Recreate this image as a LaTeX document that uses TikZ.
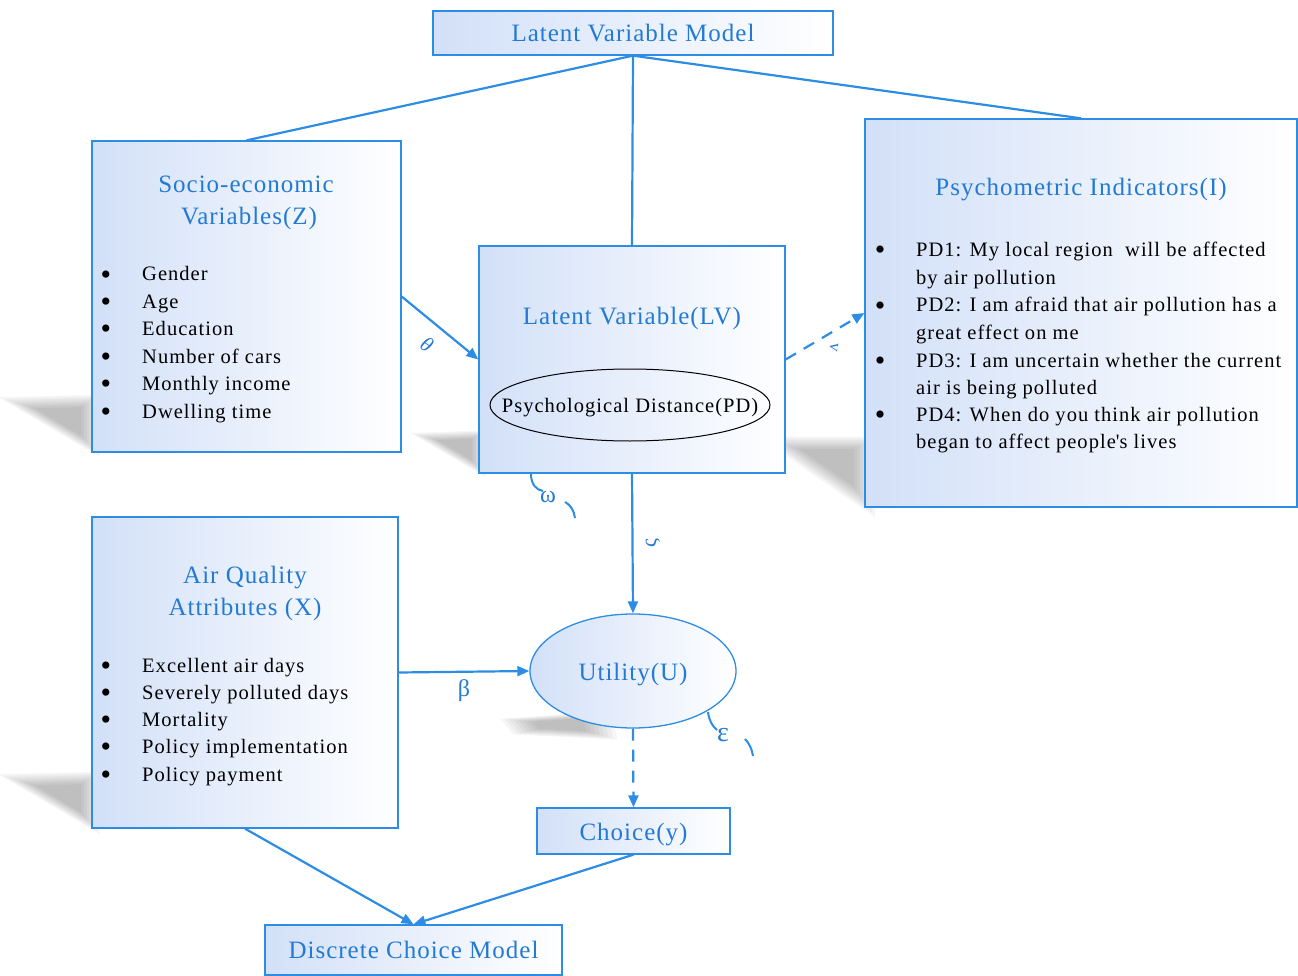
\documentclass[tikz,border=0pt]{standalone}
\usepackage{fontspec}
\setmainfont{Liberation Serif}[LetterSpace=5]
\newfontfamily\ttlfont{Liberation Serif}[LetterSpace=4]
\newfontfamily\grkfont{Liberation Serif}
\usetikzlibrary{arrows.meta,shapes.geometric}
\definecolor{lblue}{RGB}{45,140,228}
\definecolor{tblue}{RGB}{35,122,212}
\definecolor{fillb}{RGB}{210,224,248}
\tikzset{
  box/.style={draw=lblue, line width=1.3pt, left color=fillb, right color=white, inner sep=0pt},
  conn/.style={draw=lblue, line width=2.2pt},
  arr/.style={conn, -{Triangle[length=12pt,width=10pt]}},
  ttl/.style={text=tblue, font=\ttlfont\fontsize{25}{30}\selectfont, anchor=base, inner sep=0pt},
  itm/.style={text=black, font=\fontsize{20.5}{24}\selectfont, anchor=base west, inner sep=0pt},
  bul/.style={text=black, font=\grkfont\fontsize{30}{30}\selectfont, anchor=base, inner sep=0pt},
  lbl/.style={text=tblue, font=\grkfont\fontsize{24}{26}\selectfont, inner sep=0pt},
  arcl/.style={draw=lblue, line width=2pt},
}
\newcommand{\blurshape}[3]{% centre x, centre y, relative polygon
  \foreach \s in {1.3,1.2,1.1,1.0,0.9,0.8,0.7,0.6}{
    \fill[black, opacity=0.035, shift={(#1,#2)}, scale=\s] #3;
  }
}
\begin{document}
\begin{tikzpicture}[x=1pt,y=-1pt]
\useasboundingbox (0,0) rectangle (1298,976);
% shadows (soft)
\blurshape{66}{418}{(-52,-16) -- (26,-18) -- (26,30) -- cycle}
\blurshape{460}{446}{(-38,-10) -- (20,-12) -- (20,24) -- cycle}
\blurshape{836}{460}{(-60,-18) -- (30,-18) -- (30,44) -- cycle}
\blurshape{66}{795}{(-52,-16) -- (26,-18) -- (26,30) -- cycle}
\blurshape{560}{724}{(-46,-4) -- (40,-10) -- (44,12) -- (-36,8) -- cycle}
% boxes
\node[box, minimum width=400, minimum height=44] (lvm) at (633,33) {};
\node[ttl] (lvmt) at (633,42) {Latent Variable Model};
\node[box, minimum width=309, minimum height=311] (soc) at (246.5,296.5) {};
\node[box, minimum width=306, minimum height=227] (lv) at (632,359.5) {};
\node[box, minimum width=432, minimum height=388] (psy) at (1081,313) {};
\node[box, minimum width=306, minimum height=311] (air) at (245,672.5) {};
\node[box, minimum width=193, minimum height=46] (ch) at (633.5,831) {};
\node[ttl] (cht) at (633.5,840) {Choice(y)};
\node[box, minimum width=297, minimum height=50] (dcm) at (413.5,950) {};
\node[ttl] (dcmt) at (413.5,958) {Discrete Choice Model};
\node[box, ellipse, minimum width=206, minimum height=114] (u) at (633,671) {};
\node[ttl] (ut) at (633,680) {Utility(U)};
\node[draw=black, line width=1pt, ellipse, minimum width=280, minimum height=72, inner sep=0pt] (pd) at (630,405) {};
\node[itm, anchor=base] (pdt) at (630,412) {Psychological Distance(PD)};
% titles
\node[ttl] (st1) at (246,193) {Socio-economic};
\node[ttl] (st2) at (249,225) {Variables(Z)};
\node[ttl] (lvt) at (632,324) {Latent Variable(LV)};
\node[ttl] (pst) at (1081,196) {Psychometric Indicators(I)};
\node[ttl] (at1) at (245,583) {Air Quality};
\node[ttl] (at2) at (245,615) {Attributes (X)};
% socio list
\foreach \t [count=\i] in {Gender,Age,Education,Number of cars,Monthly income,Dwelling time}{
  \node[bul] (sb\i) at (106,{274+27.4*(\i-1)+10}) {\textbullet};
  \node[itm] (si\i) at (142,{274+27.4*(\i-1)+7}) {\t};
}
% air list
\foreach \t [count=\i] in {Excellent air days,Severely polluted days,Mortality,Policy implementation,Policy payment}{
  \node[bul] (ab\i) at (106,{665+27.3*(\i-1)+10}) {\textbullet};
  \node[itm] (ai\i) at (142,{665+27.3*(\i-1)+7}) {\t};
}
% psychometric list
\foreach \y/\a/\b [count=\i] in {250/{PD1: My local region\ \ will be affected}/{by air pollution},
  305/{PD2: I am afraid that air pollution has a}/{great effect on me},
  360/{PD3: I am uncertain whether the current}/{air is being polluted},
  414/{PD4: When do you think air pollution}/{began to affect people\textquotesingle s lives}}{
  \node[bul] (pb\i) at (880,\y+10) {\textbullet};
  \node[itm] (pa\i) at (916,\y+7) {\a};
  \node[itm] (pc\i) at (916,\y+34.5) {\b};
}
% connectors
\draw[conn] (lvm.south) -- (soc.north);
\draw[conn] (lvm.south) -- (lv.north);
\draw[conn] (lvm.south) -- (psy.north);
\draw[arr] (soc.east) -- (lv.west);
\draw[arr, dash pattern=on 12pt off 9pt] (lv.east) -- (psy.west);
\draw[arr] (lv.south) -- (u.north);
\draw[arr] (air.east) -- (u.west);
\draw[arr, dash pattern=on 12pt off 9pt] (u.south) -- (ch.north);
\draw[arr] (air.south) -- (dcm.north);
\draw[arr] (ch.south) -- (dcm.north);
% labels
\node[lbl, rotate=-35, font=\grkfont\itshape\fontsize{21}{24}\selectfont] (theta) at (427,345) {θ};
\node[lbl, rotate=-100, font=\grkfont\fontsize{17}{20}\selectfont] (nu) at (834,347) {v};
\node[lbl, rotate=90, font=\grkfont\fontsize{22}{24}\selectfont] (zeta) at (653,543) {ς};
\node[lbl] (omega) at (548,497) {ω};
\node[lbl] (beta) at (464,691) {β};
\node[lbl, font=\grkfont\fontsize{28}{30}\selectfont] (eps) at (723,735) {ɛ};
% arc marks
\draw[arcl] (531,474) .. controls (531,484) and (536,490) .. (543,491);
\draw[arcl] (565,502) .. controls (571,505) and (574,511) .. (575,518);
\draw[arcl] (708,712) .. controls (709,720) and (712,726) .. (717,730);
\draw[arcl] (745,739) .. controls (749,743) and (752,749) .. (753,756);
\end{tikzpicture}
\end{document}
